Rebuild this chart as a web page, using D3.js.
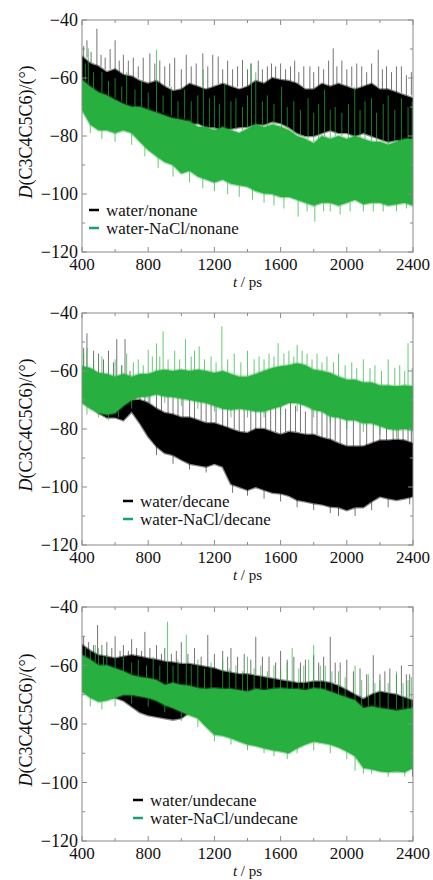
<!DOCTYPE html>
<html><head><meta charset="utf-8">
<script src="https://cdn.jsdelivr.net/npm/d3@7"></script>
<style>html,body{margin:0;padding:0;background:#fff;}svg{display:block;}</style>
</head><body>
<svg id="chart" width="433" height="880"></svg>
<script>
// ---------- data ----------
const tGrid = [400,450,500,550,600,650,700,750,800,850,900,950,1000,1050,1100,1150,1200,1250,1300,1350,1400,1450,1500,1550,1600,1650,1700,1750,1800,1850,1900,1950,2000,2050,2100,2150,2200,2250,2300,2350,2400];

// panel 1: nonane  (band = upper / lower edge of the dense trace; spikes = [t, from, to])
const nonaneWaterHi = [-52.6,-55,-56,-58,-57,-59,-59.5,-61,-62,-61,-63,-64.5,-64,-62,-63,-64,-63,-62,-63,-64,-63,-61,-62,-60,-60.7,-61,-62,-64,-64,-62,-63,-62,-63,-64,-63,-62,-64,-64,-65,-66,-67];
const nonaneWaterLo = [-65,-67,-66.4,-68,-67.6,-70,-70,-71,-72,-74,-75,-74,-74.5,-76,-75.6,-77,-77,-78,-77.5,-77,-76.8,-76,-76,-75,-75.6,-77,-79,-80,-80,-79,-78,-79,-79,-80,-79,-80,-81,-82,-81.4,-82,-81.4];
const nonaneSaltHi  = [-60.7,-63,-65,-66,-67.6,-69,-70,-70,-71,-72,-73,-74,-74.5,-75,-76.8,-77,-78,-77,-78,-79,-77.5,-76,-77,-76,-76.8,-78,-80,-81,-82.5,-80,-81,-80,-81,-80,-81,-82,-82,-83,-82,-81,-81];
const nonaneSaltLo  = [-71,-76,-78,-78,-79,-78,-79,-82,-84.8,-87,-89,-90,-92.9,-92,-94,-95,-96,-95,-96.5,-97,-97.5,-99,-99.8,-100,-101,-101,-102,-103,-104,-103,-103,-104,-103,-102,-103.5,-103,-103,-104,-103.5,-103,-104];
const nonaneWaterSpikes = [[410,-53,-49],[430,-53,-47],[455,-55,-51],[490,-56,-43],[515,-56,-52],[540,-57,-53],[570,-57,-50],[600,-57,-47],[625,-58,-54],[650,-59,-52],[680,-59,-54],[710,-60,-53],[740,-60,-56],[770,-61,-53],[810,-62,-51.5],[840,-61,-55],[870,-62,-54],[900,-63,-56],[930,-63,-55],[960,-64,-53],[1000,-64,-57],[1030,-63,-52],[1060,-62,-56],[1090,-63,-55],[1130,-63,-51.5],[1160,-64,-56],[1190,-63,-52],[1223,-62,-52.6],[1250,-62,-57],[1280,-63,-54],[1310,-63,-57],[1340,-63,-56],[1370,-63,-53.8],[1400,-63,-57],[1420,-62,-55],[1465,-61,-54],[1490,-62,-57],[1520,-62,-56],[1545,-60,-55],[1570,-60,-56],[1600,-61,-55],[1630,-61,-57],[1660,-61,-56],[1685,-62,-54],[1710,-62,-58],[1740,-63,-56],[1777,-64,-56],[1800,-64,-58],[1830,-63,-56],[1860,-62,-57],[1890,-63,-54],[1918,-63,-49.8],[1940,-62,-56],[1970,-62,-54],[2000,-63,-57],[2030,-63,-56],[2060,-64,-55],[2090,-63,-56],[2120,-63,-58],[2150,-62,-55],[2190,-63,-50.3],[2215,-64,-57],[2240,-64,-56],[2270,-64,-58],[2300,-65,-56],[2330,-65,-56],[2360,-66,-59],[2390,-66,-58]];
const nonaneSaltSpikes = [[420,-61,-55],[438,-62,-49.8],[470,-64,-58],[520,-65,-58],[560,-66,-61],[600,-67,-60],[640,-68,-63],[670,-69,-58],[720,-70,-64],[760,-70,-61],[800,-71,-65],[850,-72,-50.3],[890,-72,-66],[940,-73,-63],[980,-74,-68],[1020,-74,-64],[1060,-75,-68],[1100,-76,-66],[1133,-77,-57],[1170,-77,-67],[1200,-78,-66],[1230,-77,-69],[1263,-77,-61.8],[1300,-78,-68],[1330,-78,-67],[1370,-78,-70],[1400,-77,-66],[1424,-77,-55],[1450,-76,-58],[1490,-77,-68],[1520,-77,-66],[1560,-76,-69],[1606,-77,-63],[1640,-77,-70],[1680,-79,-68],[1720,-80,-71],[1766,-81,-67],[1800,-82,-72],[1830,-81,-69],[1866,-80,-64],[1900,-81,-71],[1930,-80,-70],[1970,-80,-72],[2010,-81,-69],[2048,-80,-63],[2080,-81,-71],[2110,-81,-68],[2149,-82,-67],[2180,-82,-72],[2220,-82,-69],[2250,-83,-66],[2290,-82,-71],[2330,-82,-67],[2370,-81,-70],[2395,-81,-68],
  [450,-76,-79],[520,-78,-81],[600,-79,-82],[700,-79,-83],[780,-83,-87],[860,-87,-91],[950,-90,-94],[1050,-92,-96],[1130,-94,-98],[1200,-96,-99],[1280,-96,-100],[1350,-97,-101],[1430,-98,-102],[1500,-99.8,-103],[1560,-100,-104],[1620,-101,-105],[1706,-102,-107.8],[1760,-103,-106],[1807,-104,-109.5],[1860,-103,-106],[1900,-103,-106],[1960,-104,-107],[2020,-103,-106],[2100,-103,-106],[2160,-103,-106],[2220,-103,-106],[2300,-103,-106],[2360,-103,-105]];

// panel 2: decane
const decaneWaterHi = [-59.6,-61,-62,-64,-66,-68,-70,-70,-71,-73,-74.5,-75,-76,-76,-77,-78,-78,-79,-80,-81,-81.4,-80,-80,-81,-82,-81,-81.4,-82,-82,-83,-83.7,-85,-86,-86,-86,-85,-84,-84,-83.7,-84,-85];
const decaneWaterLo = [-70,-72,-74.5,-76,-76,-77,-74,-78,-82.6,-86,-88.3,-89,-90.6,-92,-92.5,-93,-92,-93,-99,-100,-101,-100,-101,-102,-102.2,-103,-104.5,-105,-105.6,-106,-106.8,-107,-108,-107,-107,-105,-103.3,-104,-104.5,-104,-103.3];
const decaneSaltHi  = [-58.4,-59,-60.7,-61,-62,-61,-62,-61,-61,-60,-59.6,-60,-59.6,-60,-59.6,-60,-60.7,-60,-61,-62,-62,-61,-60,-59,-58.4,-58,-57.3,-58,-59.6,-60,-60.7,-62,-63,-63,-64,-64,-65,-65,-65.3,-65,-65.3];
const decaneSaltLo  = [-71,-73,-74.5,-75,-74.5,-72,-70,-69,-68.8,-68,-68.8,-69,-69.5,-70,-70.5,-71,-72,-73,-73.4,-73,-73.4,-74,-74,-73,-72.2,-71,-71,-72,-73.4,-74,-75.7,-76,-77,-77,-78,-78,-79,-80,-80.3,-80,-80.5];
const decaneWaterSpikes = [[410,-60,-52],[430,-60,-47],[470,-61,-53],[500,-62,-54],[530,-63,-56],[560,-64,-53],[590,-65,-57],[610,-66,-49],[640,-67,-58],[660,-68,-49],[690,-69,-60],[720,-70,-62],[750,-70,-66],[780,-71,-64],[810,-71,-66],[850,-73,-63],[880,-74,-67],[920,-75,-66],[950,-75,-68],[980,-76,-64],[1010,-76,-69],[1050,-76,-66],[1080,-77,-70],[1120,-77,-68],[1150,-78,-71],[1180,-78,-66],[1210,-78,-70],[1250,-79,-68],[1280,-80,-72],[1320,-80,-70],[1350,-81,-73],[1380,-81,-70],[1420,-81,-71],[1450,-80,-72],[1480,-80,-68],[1510,-80,-73],[1540,-81,-70],[1570,-81,-72],[1600,-82,-69],[1630,-81,-73],[1660,-81,-70],[1690,-81,-72],[1720,-81,-70],[1750,-82,-74],[1790,-82,-71],[1820,-82,-73],[1850,-83,-71],[1880,-83,-74],[1900,-84,-72],[1930,-84,-75],[1960,-85,-71],[2000,-86,-75],[2040,-86,-74],[2080,-86,-76],[2120,-86,-74],[2160,-85,-76],[2200,-84,-72],[2240,-84,-75],[2280,-84,-73],[2310,-84,-76],[2340,-84,-75],[2370,-84,-77],[2390,-85,-74],
  [780,-77,-80],[850,-86,-89],[950,-89,-92],[1050,-92,-94],[1150,-93,-95],[1310,-99,-102],[1400,-101,-103],[1500,-101,-104],[1600,-102,-105],[1700,-104,-107],[1800,-105,-108],[1900,-107,-109],[1950,-107,-110],[2050,-107,-110],[2150,-105,-108],[2250,-104,-107],[2380,-103,-106]];
const decaneSaltSpikes = [[410,-59,-54],[430,-59,-52],[470,-60,-56],[520,-61,-55],[560,-61,-57],[600,-62,-56],[640,-61,-58],[670,-62,-54],[710,-62,-57],[740,-61,-56],[770,-61,-58],[800,-61,-52.7],[825,-60,-55],[850,-60,-50.5],[870,-60,-55],[890,-60,-46.3],[920,-60,-56],[960,-60,-53],[990,-60,-56],[1025,-60,-49],[1060,-60,-55],[1080,-60,-53],[1108,-60,-51.5],[1140,-60,-56],[1180,-61,-55],[1210,-61,-57],[1245,-60,-44.6],[1280,-61,-56],[1320,-61,-54],[1360,-62,-57],[1400,-62,-53],[1440,-61,-56],[1470,-61,-55],[1500,-60,-56],[1530,-60,-54],[1560,-59,-55],[1585,-59,-50.4],[1620,-58,-54],[1650,-58,-53],[1680,-58,-55],[1700,-57,-51],[1730,-58,-53],[1760,-58,-54],[1790,-59,-56],[1820,-60,-54],[1850,-60,-57],[1880,-60,-55],[1920,-61,-57],[1950,-62,-54],[1990,-63,-58],[2030,-63,-57],[2060,-63,-59],[2100,-64,-56],[2140,-64,-59],[2170,-65,-58],[2210,-65,-60],[2250,-65,-56],[2290,-65,-59],[2320,-65,-58],[2350,-65,-60],[2370,-65,-50.4],[2395,-65,-59],
  [430,-72,-75],[500,-74,-76],[560,-75,-77],[620,-74,-76],[700,-70,-73],[800,-69,-71],[900,-69,-71],[1000,-69,-72],[1100,-70,-73],[1200,-72,-74],[1300,-73,-76],[1400,-73,-76],[1500,-74,-76],[1600,-72,-75],[1700,-71,-74],[1800,-73,-76],[1900,-75.7,-78],[2000,-77,-80],[2100,-78,-81],[2200,-79,-82],[2300,-80,-83],[2390,-80,-82]];

// panel 3: undecane
const undecaneWaterHi = [-53,-55,-56.5,-57,-57.6,-57,-56.5,-57,-57.6,-58,-58.7,-59,-59.5,-59.5,-60,-60.5,-61,-62,-62.5,-63,-63,-63.5,-64,-64.5,-65,-65.5,-66,-66,-65.5,-65.5,-66,-67,-68.5,-70,-71.5,-70,-69,-69.5,-70,-71,-72];
const undecaneWaterLo = [-67.8,-70,-71,-71,-71,-72,-74,-76,-77,-77.5,-78,-78.5,-78,-76,-77,-78,-80,-81,-82,-83,-84,-84,-85,-85,-86,-86,-86,-85,-84,-84,-85,-86,-87,-88,-90,-91,-92,-92,-93,-94,-95];
const undecaneSaltHi  = [-56.5,-58,-60,-60,-61,-62,-63.3,-64,-64.4,-65,-66.7,-66,-66.7,-67,-67.8,-68,-67.8,-68,-68,-68.5,-69,-68,-68.5,-68,-67.8,-68,-68,-68.5,-67.8,-68,-69,-70,-71,-72,-74.6,-74,-74.6,-75,-75.5,-75,-74.6];
const undecaneSaltLo  = [-69,-71,-72.4,-72,-71,-70,-70,-70.5,-71,-72,-73.5,-74.5,-75.8,-77,-78,-81,-83.7,-84,-84.9,-86,-87,-87.5,-88.3,-89,-89.4,-90,-88.3,-87,-86,-86.5,-87,-88,-89.4,-91,-95,-95.5,-96.2,-96.5,-96.2,-96.5,-95];
const undecaneWaterSpikes = [[410,-54,-50],[440,-55,-52],[470,-56,-53],[494,-56,-46.2],[520,-57,-53],[550,-57,-52],[580,-58,-54],[600,-58,-50],[630,-58,-55],[650,-58,-53],[680,-57,-55],[700,-57,-51],[730,-57,-54],[760,-58,-55],[780,-58,-48.5],[810,-58,-54],[850,-58,-53],[880,-59,-56],[900,-59,-54],[940,-59,-56],[970,-60,-55],[1000,-60,-52],[1040,-60,-56],[1080,-60,-54],[1120,-61,-57],[1160,-61,-49.6],[1200,-61,-56],[1250,-62,-55],[1280,-62,-57],[1300,-63,-54],[1340,-63,-57],[1380,-63,-56],[1420,-63,-58],[1450,-63,-50.2],[1490,-64,-57],[1530,-64,-57],[1570,-65,-59],[1600,-65,-55],[1640,-65,-58],[1680,-66,-57],[1720,-66,-59],[1750,-66,-58],[1800,-65,-56.5],[1830,-65,-59],[1860,-66,-57],[1900,-66,-50.2],[1930,-66,-59],[1960,-67,-59],[2000,-69,-58],[2040,-70,-62],[2080,-71,-61],[2120,-72,-63],[2160,-70,-56.5],[2200,-69,-63],[2230,-69,-62],[2260,-69,-61],[2300,-70,-63],[2330,-70,-60],[2360,-71,-63],[2380,-71,-63],[2397,-75,-98]];
const undecaneSaltSpikes = [[420,-57,-54],[450,-58,-55],[480,-59,-53],[500,-60,-54],[530,-60,-57],[550,-60,-56],[600,-61,-57],[650,-62,-57],[700,-63,-59],[740,-64,-58],[790,-64,-60],[830,-65,-57],[870,-65,-60],[917,-66,-45],[950,-66,-60],[980,-66,-58],[1030,-67,-49.5],[1060,-67,-60],[1100,-68,-58],[1140,-68,-61],[1180,-68,-59],[1250,-68,-58],[1290,-68,-61],[1330,-68,-60],[1370,-69,-62],[1400,-69,-57],[1440,-68,-61],[1480,-68,-60],[1520,-68,-62],[1560,-68,-60],[1600,-68,-61],[1640,-68,-59],[1670,-68,-54],[1710,-68,-61],[1740,-68,-60],[1770,-68,-58],[1800,-68,-53],[1840,-68,-60],[1870,-69,-60],[1910,-69,-62],[1950,-70,-62],[1990,-71,-64],[2050,-72,-60],[2090,-74,-65],[2130,-74,-63],[2170,-74,-66],[2200,-75,-65],[2250,-75,-66],[2300,-75,-62],[2340,-75,-66],[2370,-75,-65],[2390,-75,-64],
  [450,-71,-74],[520,-72,-75],[600,-71,-74],[700,-70,-73],[800,-71,-74],[900,-73.5,-76],[1000,-76,-79],[1100,-78,-81],[1200,-83,-86],[1300,-85,-87],[1400,-87,-89],[1500,-88,-90],[1560,-89,-91],[1640,-89,-92],[1700,-88,-90],[1800,-86,-89],[1900,-87,-90],[2000,-89,-92],[2050,-91,-96],[2100,-95,-97],[2150,-95,-97],[2250,-96,-98],[2350,-96,-98]];

const xMajorTicks = [400,800,1200,1600,2000,2400];
const xMinorTicks = [600,1000,1400,1800,2200];
const yMajorTicks = [-40,-60,-80,-100,-120];
const yMinorTicks = [-50,-70,-90,-110];
const legendLabels = [["water/nonane","water-NaCl/nonane"],["water/decane","water-NaCl/decane"],["water/undecane","water-NaCl/undecane"]];

// ---------- drawing ----------
const svg = d3.select("#chart");
const FONT = "Liberation Serif, Times New Roman, serif";
const BLACK = "#000", GREEN = "#27b03f", LEGEND_GREEN = "#17a079", FRAME = "#8a8a8a";

const panels = [
  {top:20, bottom:252, water:[nonaneWaterHi,nonaneWaterLo,nonaneWaterSpikes], salt:[nonaneSaltHi,nonaneSaltLo,nonaneSaltSpikes], legX:89, legY:210},
  {top:313, bottom:545, water:[decaneWaterHi,decaneWaterLo,decaneWaterSpikes], salt:[decaneSaltHi,decaneSaltLo,decaneSaltSpikes], legX:123, legY:501},
  {top:607, bottom:841, water:[undecaneWaterHi,undecaneWaterLo,undecaneWaterSpikes], salt:[undecaneSaltHi,undecaneSaltLo,undecaneSaltSpikes], legX:133, legY:800}
];
const left = 82, right = 413;

panels.forEach((p, i) => {
  const x = d3.scaleLinear().domain([400,2400]).range([left,right]);
  const y = d3.scaleLinear().domain([-120,-40]).range([p.bottom,p.top]);
  const g = svg.append("g");
  const clipId = "clip" + i;
  g.append("clipPath").attr("id", clipId).append("rect")
    .attr("x", left).attr("y", p.top).attr("width", right-left).attr("height", p.bottom-p.top);
  const plot = g.append("g").attr("clip-path", `url(#${clipId})`);

  const drawSeries = (hi, lo, spikes, color, spikeOpacity) => {
    const data = tGrid.map((t,k) => ({t, hi: hi[k], lo: lo[k]}));
    const area = d3.area().x(d => x(d.t)).y0(d => y(d.lo)).y1(d => y(d.hi));
    plot.append("path").datum(data).attr("d", area)
      .attr("fill", color).attr("stroke", color).attr("stroke-opacity", 0.45).attr("stroke-width", 2.5);
    plot.selectAll(null).data(spikes).enter().append("line")
      .attr("x1", d => x(d[0])).attr("x2", d => x(d[0]))
      .attr("y1", d => y(d[1])).attr("y2", d => y(d[2]))
      .attr("stroke", color).attr("stroke-width", 1).attr("stroke-opacity", spikeOpacity);
  };
  drawSeries(p.water[0], p.water[1], p.water[2], BLACK, 0.55);
  drawSeries(p.salt[0], p.salt[1], p.salt[2], GREEN, 0.7);

  // frame
  g.append("rect").attr("x", left).attr("y", p.top).attr("width", right-left).attr("height", p.bottom-p.top)
    .attr("fill","none").attr("stroke", FRAME).attr("stroke-width", 1);

  // ticks (inward, all four sides)
  const tickG = g.append("g").attr("stroke", FRAME).attr("stroke-width", 1);
  const xt = xMajorTicks.map(v => [v,5]).concat(xMinorTicks.map(v => [v,3]));
  xt.forEach(([v,len]) => {
    tickG.append("line").attr("x1", x(v)).attr("x2", x(v)).attr("y1", p.bottom).attr("y2", p.bottom-len);
    tickG.append("line").attr("x1", x(v)).attr("x2", x(v)).attr("y1", p.top).attr("y2", p.top+len);
  });
  const yt = yMajorTicks.map(v => [v,5]).concat(yMinorTicks.map(v => [v,3]));
  yt.forEach(([v,len]) => {
    tickG.append("line").attr("x1", left).attr("x2", left+len).attr("y1", y(v)).attr("y2", y(v));
    tickG.append("line").attr("x1", right).attr("x2", right-len).attr("y1", y(v)).attr("y2", y(v));
  });

  // tick labels
  g.selectAll(null).data(yMajorTicks).enter().append("text")
    .attr("x", left-4).attr("y", d => y(d)).attr("dy","0.35em")
    .attr("text-anchor","end").attr("font-family",FONT).attr("font-size",18).attr("fill","#111")
    .text(d => "\u2212" + Math.abs(d));
  g.selectAll(null).data(xMajorTicks).enter().append("text")
    .attr("x", d => x(d)).attr("y", p.bottom+18)
    .attr("text-anchor","middle").attr("font-family",FONT).attr("font-size",17).attr("fill","#111")
    .text(d => d);

  // axis titles
  const xt2 = g.append("text").attr("x", (left+right)/2).attr("y", p.bottom+35.3)
    .attr("text-anchor","middle").attr("font-family",FONT).attr("font-size",15).attr("fill","#111");
  xt2.append("tspan").attr("font-style","italic").text("t");
  xt2.append("tspan").text(" / ps");

  const yc = (p.top+p.bottom)/2 - 4;
  const yt2 = g.append("text").attr("transform", `translate(32,${yc}) rotate(-90)`)
    .attr("text-anchor","middle").attr("font-family",FONT).attr("font-size",18).attr("fill","#111");
  yt2.append("tspan").attr("font-style","italic").text("D");
  yt2.append("tspan").text("(C3C4C5C6)/(\u00b0)");

  // legend
  const leg = g.append("g");
  [[BLACK,0],[LEGEND_GREEN,1]].forEach(([c,k]) => {
    const ly = p.legY + k*18;
    leg.append("line").attr("x1", p.legX).attr("x2", p.legX+10).attr("y1", ly).attr("y2", ly)
      .attr("stroke", c).attr("stroke-width", 2.5);
    leg.append("text").attr("x", p.legX+17).attr("y", ly).attr("dy","0.33em")
      .attr("font-family",FONT).attr("font-size",17).attr("fill","#111").text(legendLabels[i][k]);
  });
});
</script>
</body></html>
